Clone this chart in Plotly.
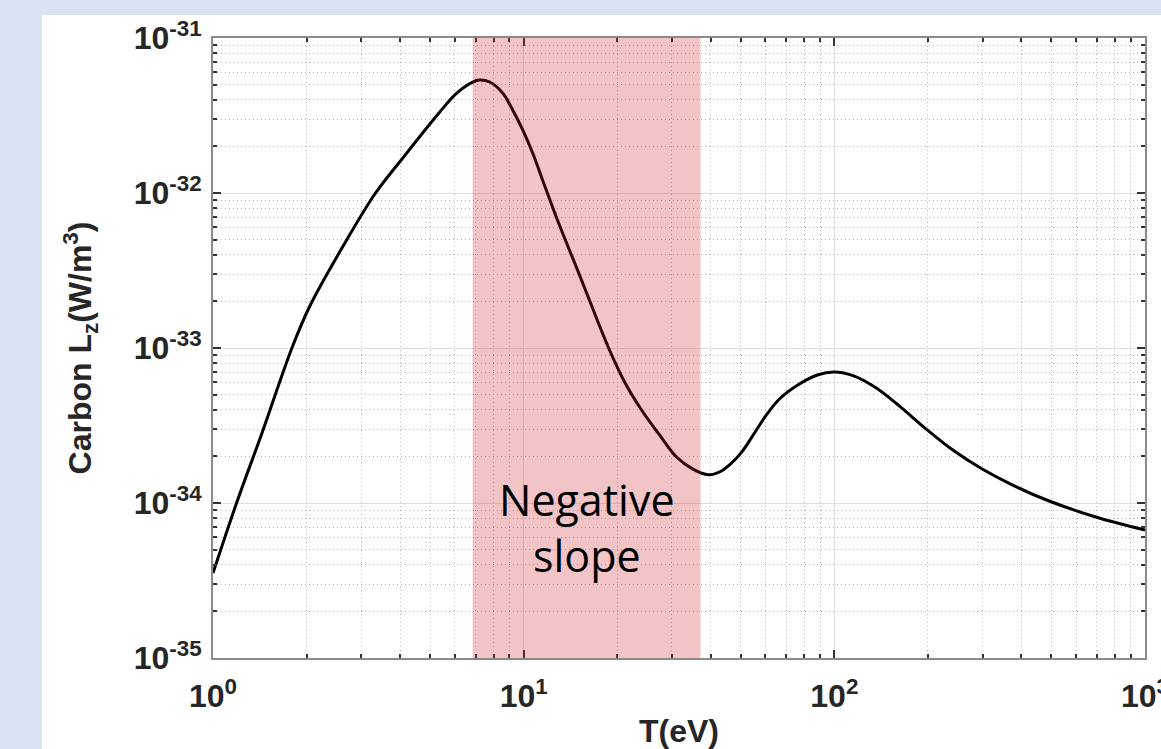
import math
import plotly.graph_objects as go

# Data
T_eV = [1.0, 1.194, 1.438, 1.795, 2.050, 2.658, 3.319, 4.083, 5.370, 6.089, 6.855,
        7.220, 7.776, 8.559, 9.218, 9.93, 10.69, 11.51, 12.77, 15.26, 18.77, 21.13,
        23.96, 27.37, 31.05, 34.95, 39.35, 42.67, 46.66, 50.61, 55.33, 60.44, 66.57,
        77.18, 88.18, 100.0, 115.96, 136.5, 161.8, 197.6, 243.2, 299.2, 379.3, 491.3,
        711.1, 1000.0]
Lz = [3.53e-35, 1.015e-34, 2.83e-34, 1.00e-33, 1.866e-33, 4.755e-33, 9.85e-33, 1.683e-32,
      3.334e-32, 4.415e-32, 5.20e-32, 5.36e-32, 5.20e-32, 4.42e-32, 3.43e-32, 2.55e-32,
      1.81e-32, 1.21e-32, 6.9e-33, 2.83e-33, 1.0e-33, 6.04e-34, 3.98e-34, 2.75e-34,
      1.98e-34, 1.66e-34, 1.52e-34, 1.585e-34, 1.811e-34, 2.163e-34, 2.83e-34, 3.70e-34,
      4.69e-34, 5.86e-34, 6.70e-34, 7.0e-34, 6.59e-34, 5.52e-34, 4.23e-34, 3.0e-34,
      2.163e-34, 1.656e-34, 1.29e-34, 1.03e-34, 8.0e-35, 6.7e-35]

shade_range = [6.85, 37.1]
x_range_log = [0, 3]
y_range_log = [-35, -31]
x_tickvals = [1, 10, 100, 1000]
x_ticktext = ["10<sup>0</sup>", "10<sup>1</sup>", "10<sup>2</sup>", "10<sup>3</sup>"]
y_tickvals = [1e-35, 1e-34, 1e-33, 1e-32, 1e-31]
y_ticktext = ["10<sup>-35</sup>", "10<sup>-34</sup>", "10<sup>-33</sup>",
              "10<sup>-32</sup>", "10<sup>-31</sup>"]
annotation_text = "Negative<br>slope"
x_title = "T(eV)"
y_title = "Carbon L<sub>z</sub>(W/m<sup>3</sup>)"

x_minor = [m * 10 ** d for d in range(0, 3) for m in range(2, 10)]
y_minor = [m * 10.0 ** d for d in range(-35, -31) for m in range(2, 10)]

W, H = 1161, 749
ml, mr, mt, mb = 213, 16, 38, 91
pw, ph = W - ml - mr, H - mt - mb


def x_to_paper(v):
    return (math.log10(v) - x_range_log[0]) / (x_range_log[1] - x_range_log[0])


fig = go.Figure()
fig.add_trace(go.Scatter(x=T_eV, y=Lz, mode="lines",
                         line=dict(color="black", width=3, shape="spline", smoothing=1.0),
                         showlegend=False, hoverinfo="skip"))

# white panel on light-blue page
fig.add_shape(type="rect", xref="paper", yref="paper",
              x0=(42 - ml) / pw, x1=(W + 20 - ml) / pw,
              y0=-(H + 20 - mt - ph) / ph, y1=(H - 15 - mb) / ph,
              fillcolor="white", line=dict(width=0), layer="below")
# translucent shaded band drawn over grid and curve
fig.add_shape(type="rect", xref="paper", yref="paper",
              x0=x_to_paper(shade_range[0]), x1=x_to_paper(shade_range[1]),
              y0=0, y1=1, fillcolor="rgba(203,19,27,0.25)", line=dict(width=0), layer="above")

fig.add_annotation(x=(math.log10(shade_range[0]) + math.log10(shade_range[1])) / 2, y=0.21,
                   xref="x", yref="paper", xanchor="center", yanchor="middle",
                   text=annotation_text, showarrow=False,
                   font=dict(family="Open Sans", size=43, color="black"))

title_font = dict(family="Liberation Sans", size=32, color="#262626", weight="bold")
axis_common = dict(
    showline=True, linecolor="#8a8a8a", linewidth=2, mirror="ticks",
    ticks="inside", ticklen=8, tickwidth=1.5, tickcolor="#333333",
    showgrid=True, gridcolor="#e0e0e0", gridwidth=1,
    tickfont=dict(family="Liberation Sans", size=32, color="#262626", weight="bold"),
    zeroline=False, ticklabeloverflow="allow", automargin=False,
)
minor_common = dict(ticks="inside", ticklen=4, tickcolor="#333333",
                    showgrid=True, gridcolor="#b4b4b4", griddash="1px,3px", gridwidth=1)

fig.update_xaxes(type="log", range=x_range_log, tickvals=x_tickvals, ticktext=x_ticktext,
                 minor=dict(tickvals=x_minor, **minor_common),
                 ticklabelstandoff=9,
                 title=dict(text=x_title, standoff=8, font=title_font),
                 **axis_common)
fig.update_yaxes(type="log", range=y_range_log, tickvals=y_tickvals, ticktext=y_ticktext,
                 minor=dict(tickvals=y_minor, **minor_common),
                 ticklabelstandoff=3,
                 title=dict(text=y_title, standoff=32, font=title_font),
                 **axis_common)

fig.update_layout(width=W, height=H, margin=dict(l=ml, r=mr, t=mt, b=mb, autoexpand=False),
                  paper_bgcolor="#dae3f3", plot_bgcolor="white")

fig.write_html("out.html", config={"displayModeBar": False},
               post_script="document.body.style.margin='0px';")
